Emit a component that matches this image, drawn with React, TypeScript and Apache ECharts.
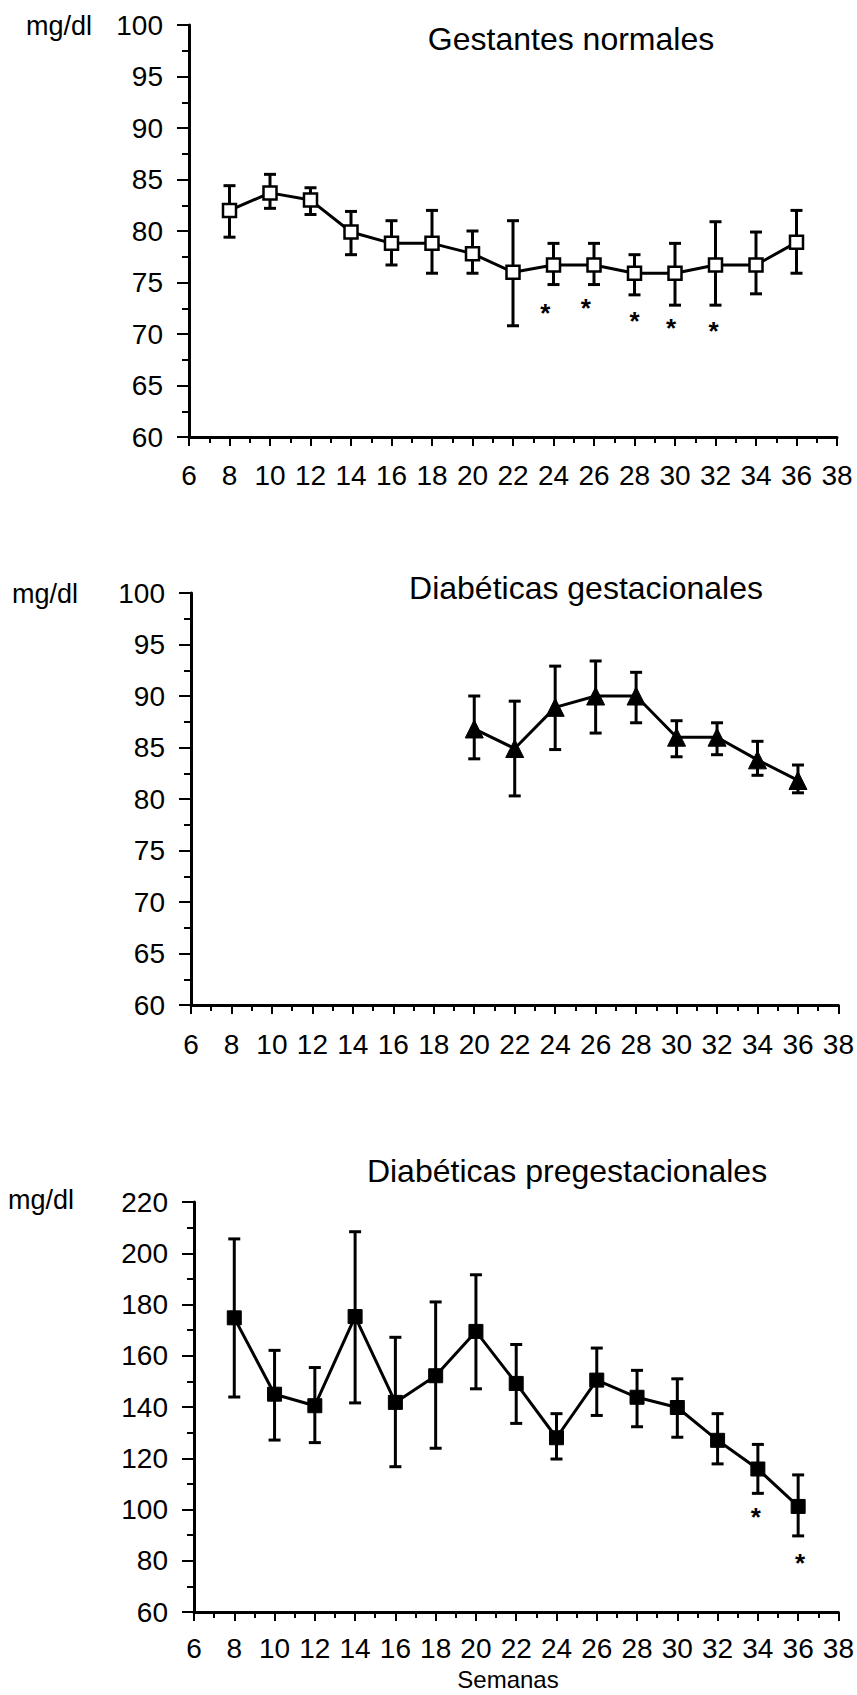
import React, { useEffect, useRef } from "react";
import * as echarts from "echarts";

// ---------- DATA ----------
const weeksNormal = [8, 10, 12, 14, 16, 18, 20, 22, 24, 26, 28, 30, 32, 34, 36];
const normalMean = [82, 83.7, 83.0, 79.9, 78.8, 78.8, 77.8, 76.0, 76.7, 76.7, 75.9, 75.9, 76.7, 76.7, 78.9];
const normalHigh = [84.4, 85.5, 84.2, 81.9, 81.0, 82.0, 80.0, 81.0, 78.8, 78.8, 77.7, 78.8, 80.9, 79.9, 82.0];
const normalLow = [79.4, 82.2, 81.6, 77.7, 76.7, 75.9, 75.9, 70.8, 74.8, 74.8, 73.8, 72.8, 72.8, 73.9, 75.9];
const normalStarX = [23.6, 25.6, 28.0, 29.8, 31.9];
const normalStarY = [72.6, 73.1, 71.8, 71.1, 70.8];

const weeksGest = [20, 22, 24, 26, 28, 30, 32, 34, 36];
const gestMean = [86.8, 84.9, 88.9, 90.0, 90.0, 86.0, 86.0, 83.8, 81.8];
const gestHigh = [90.0, 89.5, 92.9, 93.4, 92.3, 87.6, 87.4, 85.6, 83.3];
const gestLow = [83.9, 80.3, 84.8, 86.4, 87.4, 84.1, 84.3, 82.3, 80.6];

const weeksPre = [8, 10, 12, 14, 16, 18, 20, 22, 24, 26, 28, 30, 32, 34, 36];
const preMean = [174.8, 145, 140.5, 175.3, 141.8, 152.2, 169.5, 149.2, 128, 150.5, 143.8, 139.8, 127, 115.8, 101.2];
const preHigh = [205.6, 162.1, 155.4, 208.4, 167.2, 181, 191.6, 164.4, 137.4, 163, 154.3, 151, 137.4, 125.4, 113.5];
const preLow = [143.9, 127.1, 126.1, 141.6, 116.7, 123.9, 147.1, 133.6, 119.7, 136.7, 132.3, 128.2, 117.8, 106.3, 89.7];
const preStarX = [33.9, 36.1];
const preStarY = [99.4, 81.4];

const titles = ["Gestantes normales", "Diabéticas gestacionales", "Diabéticas pregestacionales"];
const unitLabel = "mg/dl";
const xAxisName = "Semanas";

// ---------- STYLE ----------
const FONT = "'Liberation Sans', Arial, Helvetica, sans-serif";
const BLACK = "#000";

function zip2(a: number[], b: number[]) {
  return a.map((v, i) => [v, b[i]]);
}
function zip3(a: number[], b: number[], c: number[]) {
  return a.map((v, i) => [v, b[i], c[i]]);
}

function errorBarSeries(idx: number, data: number[][]) {
  return {
    type: "custom",
    xAxisIndex: idx,
    yAxisIndex: idx,
    z: 2,
    encode: { x: 0, y: [1, 2] },
    data,
    renderItem: (params: any, api: any) => {
      const x = api.value(0);
      const lo = api.value(1);
      const hi = api.value(2);
      const pLo = api.coord([x, lo]);
      const pHi = api.coord([x, hi]);
      const cap = 6;
      const style = { stroke: BLACK, lineWidth: 3, fill: null };
      return {
        type: "group",
        children: [
          { type: "line", shape: { x1: pLo[0], y1: pLo[1], x2: pHi[0], y2: pHi[1] }, style },
          { type: "line", shape: { x1: pHi[0] - cap, y1: pHi[1], x2: pHi[0] + cap, y2: pHi[1] }, style },
          { type: "line", shape: { x1: pLo[0] - cap, y1: pLo[1], x2: pLo[0] + cap, y2: pLo[1] }, style },
        ],
      };
    },
  };
}

function starSeries(idx: number, data: number[][]) {
  return {
    type: "custom",
    xAxisIndex: idx,
    yAxisIndex: idx,
    z: 4,
    data,
    renderItem: (params: any, api: any) => {
      const p = api.coord([api.value(0), api.value(1)]);
      const fs = 26;
      return {
        type: "text",
        x: p[0],
        y: p[1] + fs * 0.22,
        style: {
          text: "*",
          fontSize: fs,
          fontWeight: "bold",
          fontFamily: FONT,
          fill: BLACK,
          align: "center",
          verticalAlign: "middle",
        },
      };
    },
  };
}

function xAxisCfg(idx: number, margin: number) {
  return {
    type: "value",
    gridIndex: idx,
    min: 6,
    max: 38,
    interval: 2,
    axisLine: { show: true, onZero: false, lineStyle: { color: BLACK, width: 3 } },
    axisTick: { show: true, length: 9, lineStyle: { color: BLACK, width: 2 } },
    minorTick: { show: true, splitNumber: 2, length: 6, lineStyle: { color: BLACK, width: 2 } },
    splitLine: { show: false },
    minorSplitLine: { show: false },
    axisLabel: { color: BLACK, fontSize: 28, fontFamily: FONT, margin },
  };
}

function yAxisCfg(idx: number, min: number, max: number, interval: number) {
  return {
    type: "value",
    gridIndex: idx,
    min,
    max,
    interval,
    axisLine: { show: true, onZero: false, lineStyle: { color: BLACK, width: 3 } },
    axisTick: { show: true, length: 12, lineStyle: { color: BLACK, width: 2 } },
    minorTick: { show: true, splitNumber: 2, length: 7, lineStyle: { color: BLACK, width: 2 } },
    splitLine: { show: false },
    minorSplitLine: { show: false },
    axisLabel: { color: BLACK, fontSize: 28, fontFamily: FONT, margin: 26 },
  };
}

function lineSeries(idx: number, data: number[][], symbol: string, size: number, filled: boolean) {
  return {
    type: "line",
    xAxisIndex: idx,
    yAxisIndex: idx,
    z: 3,
    data,
    symbol,
    symbolSize: size,
    showAllSymbol: true,
    lineStyle: { color: BLACK, width: 3 },
    itemStyle: filled
      ? { color: BLACK, borderColor: BLACK, borderWidth: 1 }
      : { color: "#fff", borderColor: BLACK, borderWidth: 2.5 },
    emphasis: { disabled: true },
  };
}

function textEl(text: string, x: number, y: number, fontSize: number, align: string) {
  return {
    type: "text",
    x,
    y,
    style: {
      text,
      fontSize,
      fontFamily: FONT,
      fill: BLACK,
      align,
      verticalAlign: "middle",
    },
  };
}

export default function App() {
  const ref = useRef<HTMLDivElement>(null);
  useEffect(() => {
    document.body.style.margin = "0";
    if (!ref.current) return;
    const chart = echarts.init(ref.current, undefined, { renderer: "svg" });
    const option: any = {
      animation: false,
      backgroundColor: "#fff",
      grid: [
        { left: 189, top: 25, width: 648, height: 412 },
        { left: 191, top: 593, width: 648, height: 412 },
        { left: 194, top: 1202, width: 645, height: 410 },
      ],
      xAxis: [xAxisCfg(0, 24), xAxisCfg(1, 25), xAxisCfg(2, 22)],
      yAxis: [yAxisCfg(0, 60, 100, 5), yAxisCfg(1, 60, 100, 5), yAxisCfg(2, 60, 220, 20)],
      series: [
        errorBarSeries(0, zip3(weeksNormal, normalLow, normalHigh)),
        lineSeries(0, zip2(weeksNormal, normalMean), "rect", 13, false),
        starSeries(0, zip2(normalStarX, normalStarY)),
        errorBarSeries(1, zip3(weeksGest, gestLow, gestHigh)),
        lineSeries(1, zip2(weeksGest, gestMean), "triangle", 18, true),
        errorBarSeries(2, zip3(weeksPre, preLow, preHigh)),
        lineSeries(2, zip2(weeksPre, preMean), "rect", 14, true),
        starSeries(2, zip2(preStarX, preStarY)),
      ],
      graphic: [
        textEl(titles[0], 571, 39, 32, "center"),
        textEl(titles[1], 586, 588, 32, "center"),
        textEl(titles[2], 567, 1171, 32, "center"),
        textEl(unitLabel, 26, 26, 27, "left"),
        textEl(unitLabel, 12, 594, 27, "left"),
        textEl(unitLabel, 8, 1200, 27, "left"),
        textEl(xAxisName, 508, 1679, 24, "center"),
      ],
    };
    chart.setOption(option);
    return () => chart.dispose();
  }, []);
  return <div ref={ref} style={{ width: 857, height: 1695, background: "#fff" }} />;
}
